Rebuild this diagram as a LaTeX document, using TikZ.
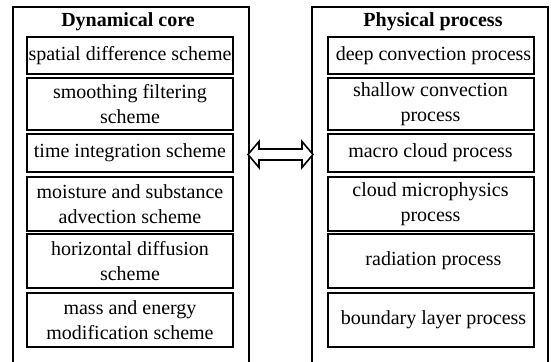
\documentclass[tikz,border=0pt]{standalone}
\usepackage{fontspec}
\setmainfont{Liberation Serif}
\begin{document}
\begin{tikzpicture}[x=0.5pt,y=-0.5pt,
  outer/.style={draw=black,line width=1pt},
  item/.style={draw=black,line width=1pt,minimum width=103pt,inner sep=0pt,align=center,
    font=\fontsize{10}{12.5}\selectfont},
  ttl/.style={font=\fontsize{10}{12}\selectfont\bfseries,inner sep=0pt},
  arr/.style={draw=black,line width=0.8pt,fill=white,line join=miter}]
\useasboundingbox[fill=white] (0,0) rectangle (553,361);
% containers
\coordinate (DCbl) at (13,362);
\coordinate (DCtl) at (13,7);
\coordinate (DCtr) at (249,7);
\coordinate (DCbr) at (249,362);
\coordinate (PPbl) at (312,362);
\coordinate (PPtl) at (312,7);
\coordinate (PPtr) at (548,7);
\coordinate (PPbr) at (548,362);
\draw[outer] (DCbl) -- (DCtl) -- (DCtr) -- (DCbr);
\draw[outer] (PPbl) -- (PPtl) -- (PPtr) -- (PPbr);
\node[ttl] (dctitle) at (128,22) {Dynamical core};
\node[ttl] (pptitle) at (433,22) {Physical process};
% dynamical core items
\node[item,minimum height=18.5pt] (d1) at (130,55.5) {spatial difference scheme};
\node[item,minimum height=26pt] (d2) at (130,104) {smoothing filtering\\scheme};
\node[item,minimum height=19pt] (d3) at (130,153) {time integration scheme};
\node[item,minimum height=27pt] (d4) at (130,204) {moisture and substance\\advection scheme};
\node[item,minimum height=27pt] (d5) at (130,261) {horizontal diffusion\\scheme};
\node[item,minimum height=27pt] (d6) at (130,320) {mass and energy\\modification scheme};
% physical process items
\node[item,minimum height=18.5pt] (p1) at (430.5,55.5) {\hspace{3pt}deep convection process};
\node[item,minimum height=26pt] (p2) at (430.5,104) {shallow convection\\process};
\node[item,minimum height=19pt] (p3) at (430.5,153) {macro cloud process};
\node[item,minimum height=27pt] (p4) at (430.5,204) {cloud microphysics\\process};
\node[item,minimum height=27pt] (p5) at (430.5,261) {\hspace{3pt}radiation process};
\node[item,minimum height=27pt] (p6) at (430.5,320) {\hspace{3pt}boundary layer process};
% double arrow between the two containers
\coordinate (aL) at (248,154.5);
\coordinate (aR) at (313,154.5);
\draw[arr] (aL) -- ++(11,-13) -- ++(0,7.5) -- ++(43,0) -- ++(0,-7.5) -- (aR)
  -- ++(-11,13) -- ++(0,-7.5) -- ++(-43,0) -- ++(0,7.5) -- cycle;
\end{tikzpicture}
\end{document}
